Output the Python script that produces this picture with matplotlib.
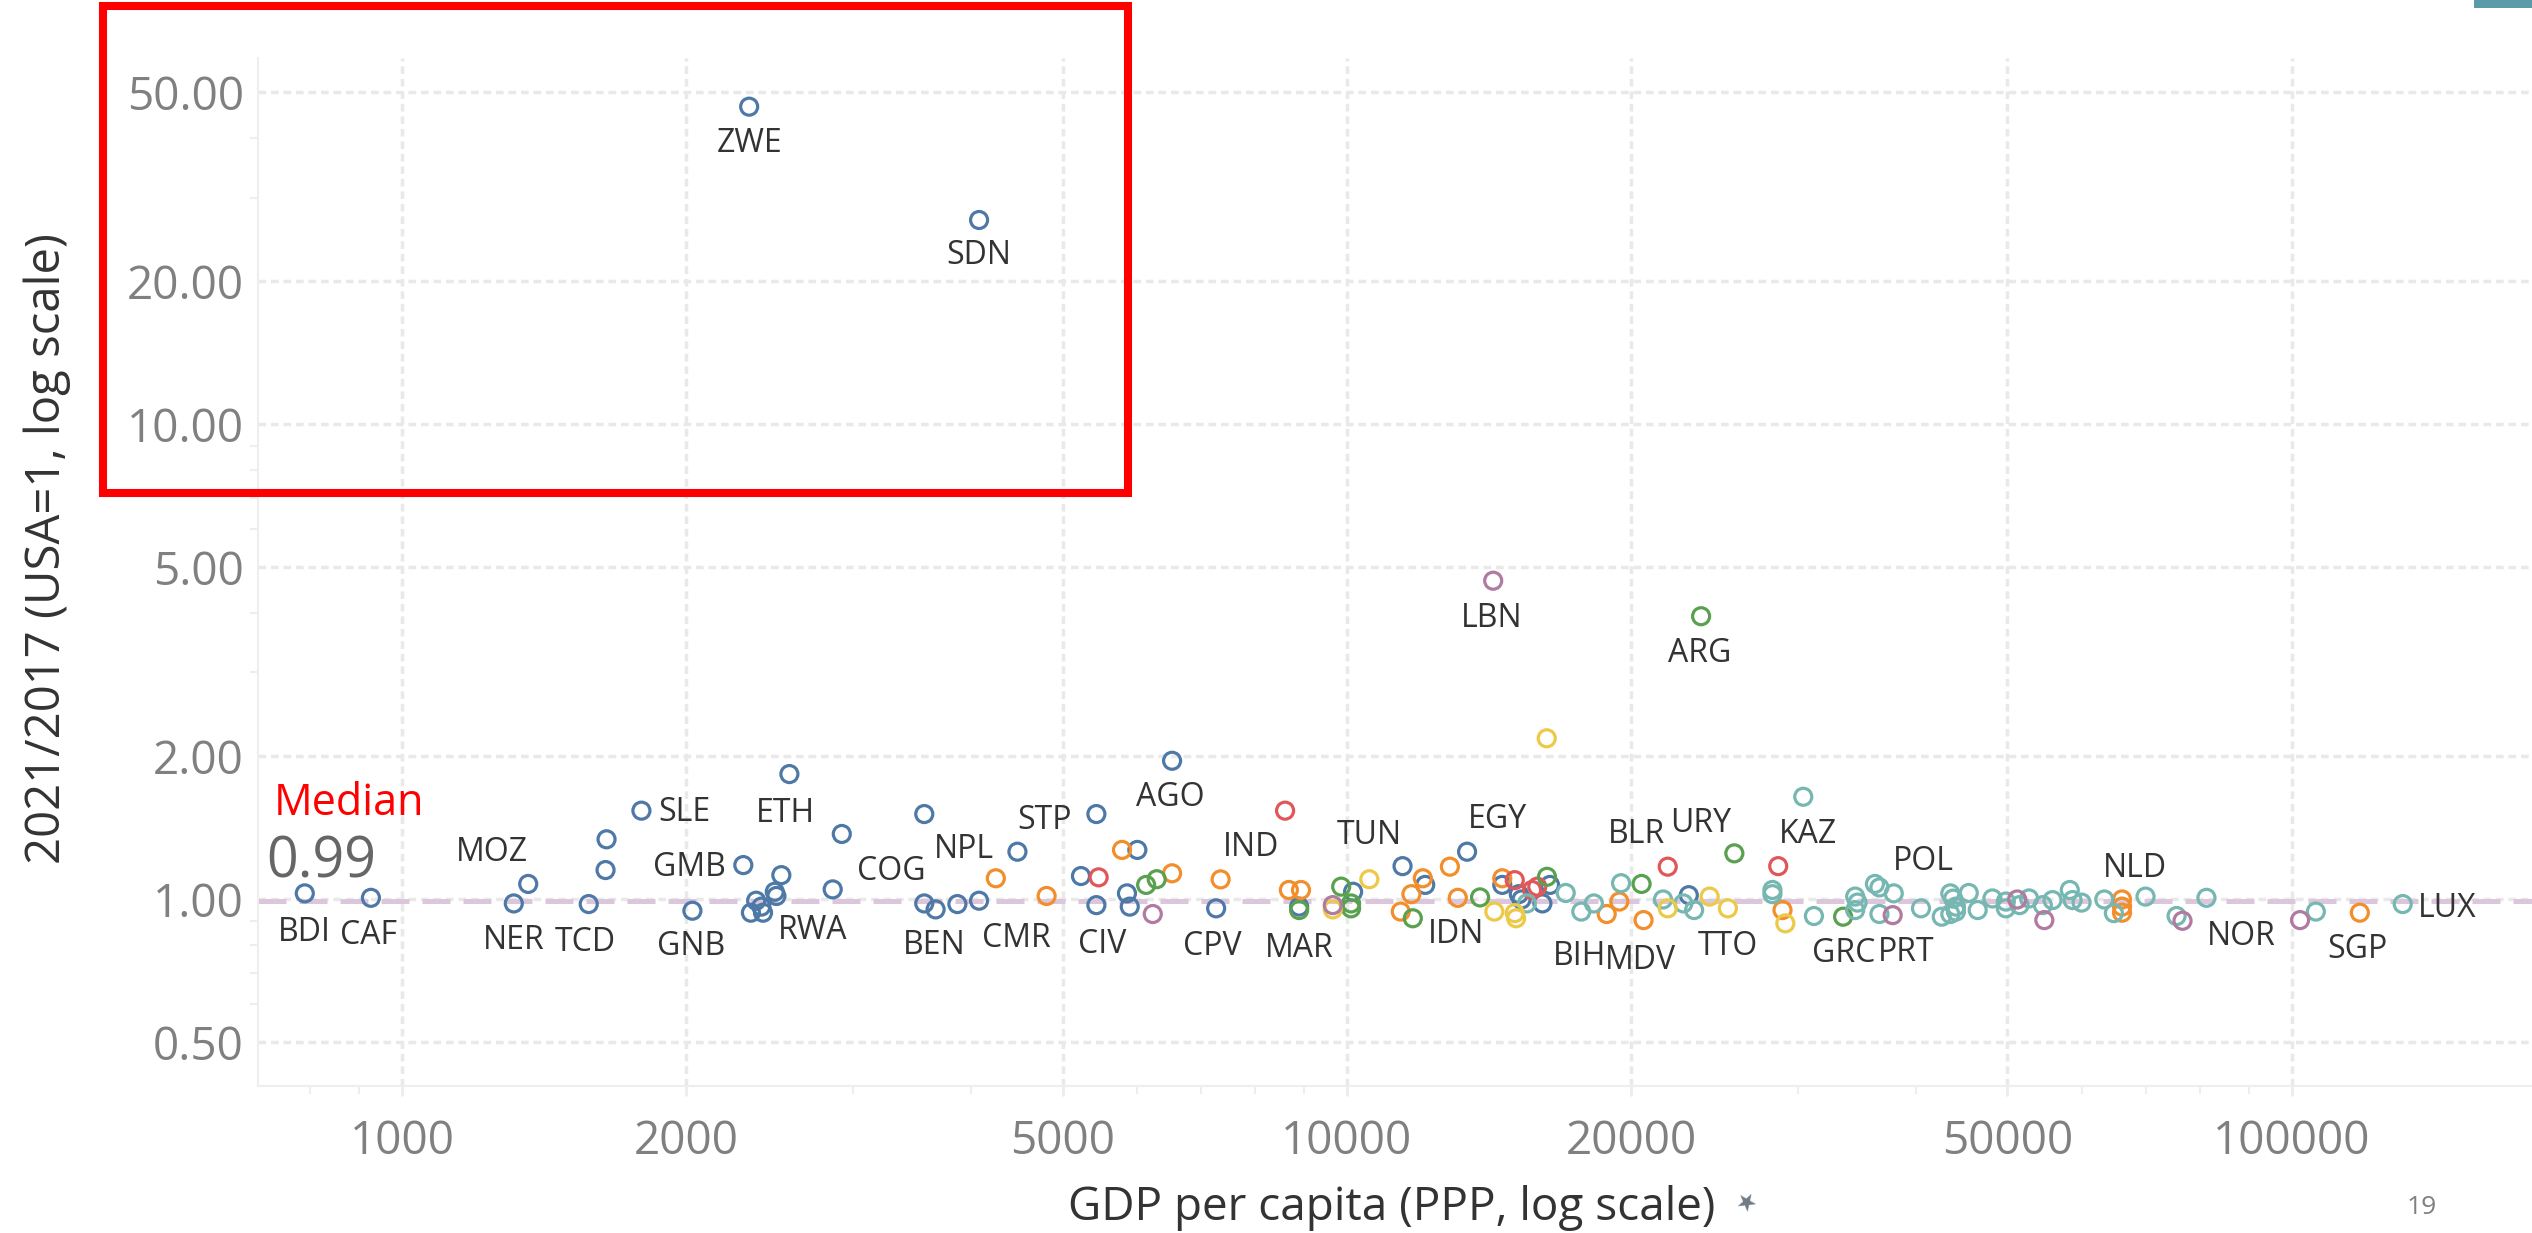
import matplotlib.pyplot as plt
from matplotlib.patches import Rectangle
from matplotlib.ticker import FixedLocator, NullFormatter, LogLocator

plt.rcParams['font.family'] = ['Open Sans', 'DejaVu Sans']

# GDP per capita (PPP), 2021/2017 ratio, colour group, label
gdp = [2330, 4080, 789, 927, 1313, 1360, 1576, 1642, 1646, 1792, 2029, 2297, 2570, 2520,
       2480, 2490, 2370, 2400, 2340, 2410, 2856, 2920, 3570, 3570, 3670, 3870, 4080, 4480,
       5430, 5230, 5430, 6000, 5850, 5890, 6530, 7270, 8900, 10150, 11450, 12100, 13400,
       14600, 15200, 15300, 16400, 16100, 23000,
       4250, 4810, 5780, 6530, 7350, 8680, 8940, 11400, 11700, 12030, 12850, 13100, 14600,
       18830, 19420, 20600, 28900, 66100, 66100, 66100, 118000,
       5460, 8600, 15050, 15700, 15900, 21850, 28600,
       6130, 6290, 8900, 9860, 10100, 10100, 11740, 13830, 16280, 20500, 23700, 25700, 33500,
       15500, 17040, 17700, 18250, 19500, 21600, 22700, 23300, 28200, 28200, 30400, 31200,
       34500, 34700, 34500, 36200, 36600, 37900, 36600, 40500, 42600, 43500, 43800, 44100,
       44100, 43500, 45500, 46500, 48200, 49800, 49800, 51500, 52700, 54500, 55800, 58200,
       58600, 59900, 63300, 64800, 70000, 75500, 81200, 106000, 131000,
       9660, 10560, 14320, 15100, 15050, 16270, 21850, 24200, 25300, 29100,
       6230, 9660, 14280, 37800, 51200, 54700, 76600, 102000]
ratio = [46.6, 26.9, 1.028, 1.006, 0.979, 1.076, 0.976, 1.151, 1.336, 1.535, 0.945, 1.179, 1.833, 1.123,
         1.036, 1.015, 0.992, 0.964, 0.936, 0.936, 1.048, 1.371, 1.51, 0.979, 0.951, 0.976, 0.992, 1.258,
         1.51, 1.118, 0.971, 1.269, 1.028, 0.964, 1.955, 0.956, 0.964, 1.036, 1.173, 1.071, 1.258,
         1.071, 1.024, 0.998, 1.071, 0.979, 1.019,
         1.106, 1.015, 1.269, 1.133, 1.100, 1.045, 1.045, 0.941, 1.024, 1.106, 1.17, 1.006, 1.106,
         0.930, 0.988, 0.903, 0.948, 0.998, 0.964, 0.936, 0.936,
         1.111, 1.535, 1.096, 1.045, 1.062, 1.17, 1.173,
         1.071, 1.101, 0.948, 1.062, 0.956, 0.979, 0.911, 1.008, 1.114, 1.076, 3.94, 1.248, 0.918,
         0.979, 1.03, 0.941, 0.979, 1.08, 0.998, 0.979, 0.948, 1.045, 1.024, 1.642, 0.921,
         1.012, 0.983, 0.948, 1.076, 1.058, 1.028, 0.930, 0.956, 0.918, 1.028, 1.002, 0.964,
         0.941, 0.930, 1.03, 0.948, 1.003, 0.988, 0.956, 0.971, 1.003, 0.971, 0.995, 1.045,
         0.995, 0.983, 0.998, 0.934, 1.012, 0.921, 1.006, 0.941, 0.976,
         0.951, 1.101, 0.941, 0.911, 0.934, 2.18, 0.956, 1.012, 0.956, 0.889,
         0.930, 0.971, 4.68, 0.925, 0.998, 0.903, 0.900, 0.903]
group = (['blue'] * 47 + ['orange'] * 21 + ['red'] * 7 + ['green'] * 13 +
         ['teal'] * 45 + ['yellow'] * 10 + ['purple'] * 8)
codes = ['ZWE', 'SDN', 'BDI', 'CAF', 'NER', 'MOZ', 'TCD', '', '', 'SLE', 'GNB', 'GMB', 'ETH', '',
         '', 'RWA', '', '', '', '', 'COG', '', '', '', 'BEN', '', 'CMR', 'NPL',
         'STP', '', 'CIV', '', '', '', 'AGO', 'CPV', '', '', 'TUN', '', 'EGY',
         '', '', '', '', '', '',
         '', '', '', '', '', '', '', '', '', '', '', 'IDN', '',
         '', '', 'MDV', '', 'NLD', '', '', 'SGP',
         '', 'IND', '', '', '', 'BLR', '',
         '', '', 'MAR', '', '', '', '', '', '', '', 'ARG', 'URY', 'GRC',
         '', '', 'BIH', '', '', '', '', '', '', '', 'KAZ', '',
         '', '', '', '', '', 'POL', '', '', '', '', '', '',
         '', '', '', '', '', '', '', '', '', '', '', '',
         '', '', '', '', '', '', '', '', 'LUX',
         '', '', '', '', '', '', '', '', 'TTO', '',
         '', '', 'LBN', 'PRT', '', '', 'NOR', '']
median = 0.99

palette = {'blue': '#4e79a7', 'orange': '#f28e2b', 'red': '#e15759', 'green': '#59a14f',
           'teal': '#76b7b2', 'yellow': '#edc948', 'purple': '#b07aa1'}

# label offsets in pixels from the mark
offsets = {'ZWE': (0, -37), 'SDN': (0, -35), 'BDI': (0, -39), 'CAF': (-2, -38), 'NER': (0, -37),
           'MOZ': (-36, 31), 'TCD': (-3, -38), 'SLE': (43, -2), 'GMB': (-54, -2), 'GNB': (-1, -36),
           'ETH': (-4, -39), 'RWA': (36, -35), 'COG': (59, 18), 'BEN': (-1, -36), 'NPL': (-54, 2),
           'CMR': (37, -38), 'STP': (-52, -6), 'CIV': (6, -39), 'AGO': (-2, -37), 'IND': (-34, -37),
           'CPV': (-4, -38), 'MAR': (0, -38), 'TUN': (-33, 31), 'EGY': (30, 32), 'IDN': (-2, -37),
           'BIH': (-2, -45), 'MDV': (-3, -40), 'BLR': (-31, 32), 'URY': (-34, 30), 'TTO': (0, -38),
           'KAZ': (5, -38), 'GRC': (1, -37), 'PRT': (14, -37), 'POL': (30, 32), 'NLD': (13, 31),
           'NOR': (59, -16), 'SGP': (-2, -37), 'LUX': (44, -4), 'LBN': (-2, -38), 'ARG': (-1, -37)}

W, H = 2532, 1233
fig = plt.figure(figsize=(W / 100, H / 100), dpi=100)
ax = fig.add_axes([258 / W, 1 - 1086 / H, (W - 258) / W, (1086 - 58) / H])

ax.set_xscale('log')
ax.set_yscale('log')
ax.set_xlim(704, 179500)
ax.set_ylim(0.404, 59)

ax.axhline(median, color='#dcc6dc', lw=3.6, linestyle=(0, (5.6, 2.6)), zorder=1)

ax.scatter(gdp, ratio, s=150, facecolors='none',
           edgecolors=[palette[g] for g in group], linewidths=2.3, zorder=3)

for x, y, c in zip(gdp, ratio, codes):
    if c:
        dx, dy = offsets[c]
        ax.annotate(c, (x, y), xytext=(dx, dy), textcoords='offset pixels',
                    ha='center', va='center', fontsize=23, color='#333333', zorder=4)

yt = [0.5, 1, 2, 5, 10, 20, 50]
xt = [1000, 2000, 5000, 10000, 20000, 50000, 100000]
ax.yaxis.set_major_locator(FixedLocator(yt))
ax.set_yticklabels(['%.2f' % v for v in yt])
ax.yaxis.set_minor_formatter(NullFormatter())
ax.yaxis.set_minor_locator(LogLocator(base=10, subs=(3, 4, 6, 7, 8, 9)))
ax.xaxis.set_major_locator(FixedLocator(xt))
ax.set_xticklabels([str(v) for v in xt])
ax.xaxis.set_minor_locator(LogLocator(base=10, subs=(3, 4, 6, 7, 8, 9)))
ax.xaxis.set_minor_formatter(NullFormatter())

ax.tick_params(axis='y', which='major', length=0, pad=10, labelsize=33, labelcolor='#808080')
ax.tick_params(axis='x', which='major', length=7, width=2, color='#ececec', pad=17,
               labelsize=33, labelcolor='#808080')
ax.tick_params(which='minor', length=6, width=1.5, color='#eeeeee')

ax.grid(True, which='major', color='#e9e9e9', lw=2.5, linestyle=(0, (2.2, 1.4)), zorder=0)
ax.set_axisbelow(True)
for s in ['top', 'right']:
    ax.spines[s].set_visible(False)
for s in ['left', 'bottom']:
    ax.spines[s].set_color('#eeeeee')
    ax.spines[s].set_linewidth(1.5)

fig.text(47 / W, 1 - 549 / H, '2021/2017 (USA=1, log scale)', rotation=90,
         ha='center', va='center', fontsize=34, color='#333333')
fig.text(1392 / W, 1 - 1208 / H, 'GDP per capita (PPP, log scale)',
         ha='center', va='center', fontsize=33, color='#333333')
fig.text(1745 / W, 1 - 1203 / H, '\u2605', ha='center', va='center', fontsize=17,
         color='#6f7b86', family='DejaVu Sans', rotation=-30)
fig.text(2422 / W, 1 - 1208 / H, '19', ha='center', va='center', fontsize=19, color='#808080')

fig.text(274 / W, 1 - 815 / H, 'Median', ha='left', va='baseline', fontsize=31, color='#ff0000')
fig.text(266 / W, 1 - 878 / H, '%.2f' % median, ha='left', va='baseline', fontsize=40,
         color='#666666')

fig.patches.append(Rectangle((103 / W, 1 - 493 / H), (1128 - 103) / W, (493 - 6) / H,
                             transform=fig.transFigure, fill=False, edgecolor='#ff0000',
                             lw=5.8, zorder=10))
fig.patches.append(Rectangle((2474 / W, 1 - 8 / H), 58 / W, 8 / H, transform=fig.transFigure,
                             facecolor='#5b9aa9', edgecolor='none'))

fig.savefig('out.png', dpi=100)
